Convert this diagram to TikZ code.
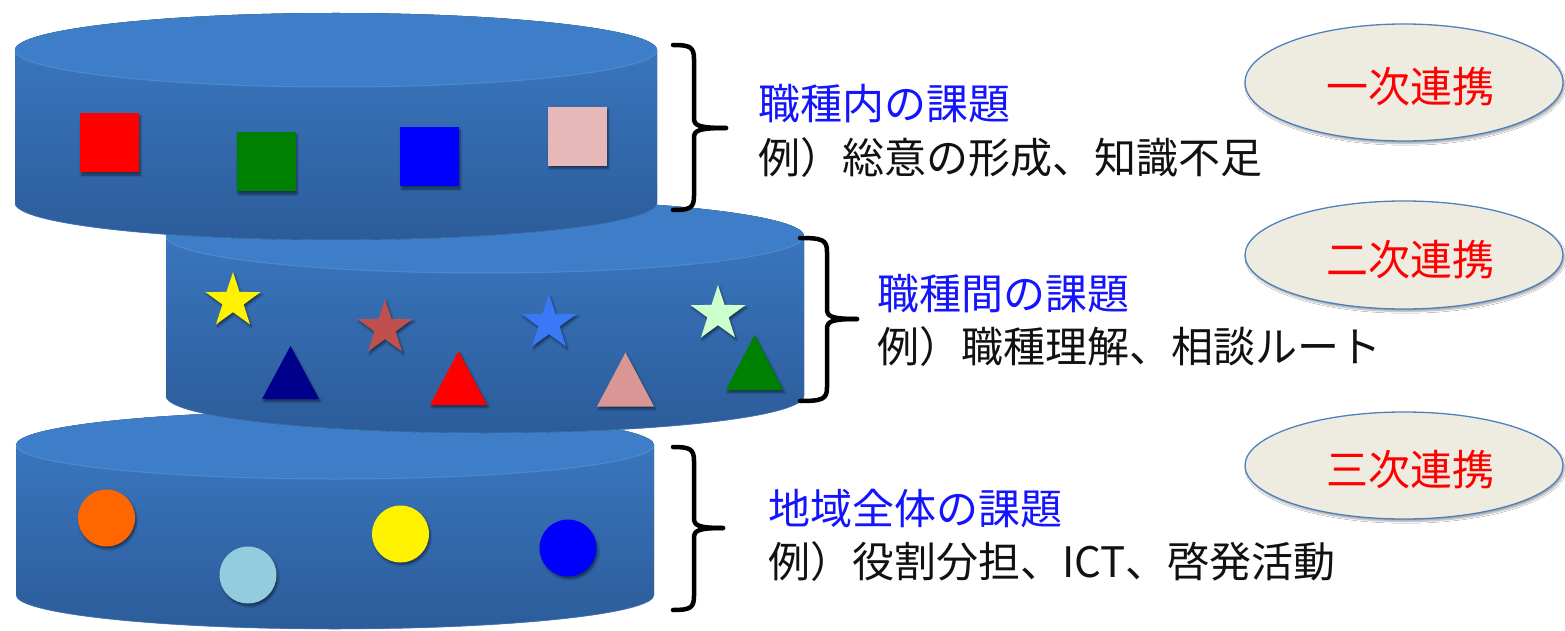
\documentclass[tikz,border=0pt]{standalone}
\usepackage{fontspec}
\newfontfamily\jpfont{Noto Sans CJK JP}
\usetikzlibrary{shapes.geometric,shadows.blur}
\definecolor{cyltop}{RGB}{62,125,200}
\definecolor{cylsideA}{RGB}{60,122,196}
\definecolor{cylsideB}{RGB}{44,92,154}
\definecolor{cylrim}{RGB}{88,146,214}
\definecolor{ovalfill}{RGB}{238,236,225}
\definecolor{ovalline}{RGB}{79,129,189}
\definecolor{sqpink}{RGB}{230,185,184}
\definecolor{sqgreen}{RGB}{0,128,0}
\definecolor{starbrown}{RGB}{192,80,77}
\definecolor{starblue}{RGB}{58,120,245}
\definecolor{starlg}{RGB}{204,255,204}
\definecolor{trinavy}{RGB}{0,0,140}
\definecolor{tripink}{RGB}{217,150,148}
\definecolor{circorange}{RGB}{255,102,0}
\definecolor{circlb}{RGB}{147,205,221}
\definecolor{txtblue}{RGB}{20,20,255}
\definecolor{txtblack}{RGB}{17,17,17}
\newcommand\mycylinder[5]{% cx, rx, ytop, ybottom, ry
  \fill[top color=cylsideA,bottom color=cylsideB]
    (#1-#2,#3) -- (#1-#2,#4)
    arc[start angle=180,end angle=0,x radius=#2,y radius=#5]
    -- (#1+#2,#3)
    arc[start angle=0,end angle=-180,x radius=#2,y radius=#5] -- cycle;
  \draw[cylrim,line width=0.8pt,opacity=0.5] (#1-#2,#4)
    arc[start angle=180,end angle=0,x radius=#2,y radius=#5];
  \fill[cyltop] (#1,#3) ellipse[x radius=#2,y radius=#5];
  \draw[cylrim,line width=1pt,opacity=0.7] (#1-#2,#3)
    arc[start angle=180,end angle=0,x radius=#2,y radius=#5];
}
\newcommand\mybrace[6]{% hookx, x, ytop, ymid, ybot, tipx
  \draw[bracestyle] (#1,#3) .. controls (#2-4,#3) and (#2,#3+2) .. (#2,#3+14)
    -- (#2,#4-10) .. controls (#2,#4-3) and (#2+3,#4) .. (#6,#4);
  \draw[bracestyle] (#6,#4) .. controls (#2+3,#4) and (#2,#4+3) .. (#2,#4+10)
    -- (#2,#5-14) .. controls (#2,#5-2) and (#2-4,#5) .. (#1,#5);
}
\begin{document}
\begin{tikzpicture}[x=1pt,y=-1pt,
  bracestyle/.style={line width=4.5pt,black,line cap=round,line join=round},
  shp/.style={blur shadow={shadow xshift=1.5pt,shadow yshift=-2.5pt,shadow blur steps=5,shadow opacity=45}},
  sq/.style={shp,draw=none,inner sep=0pt,minimum size=59pt},
  starnode/.style={shp,star,star points=5,star point ratio=2.6,draw=none,inner sep=0pt,minimum size=58pt},
  dot/.style={shp,circle,draw=none,inner sep=0pt,minimum size=57pt},
  oval/.style={ellipse,draw=ovalline,line width=1.3pt,fill=ovalfill,inner sep=0pt,
    blur shadow={shadow xshift=1.5pt,shadow yshift=-2.5pt,shadow blur steps=5,shadow opacity=35}},
  ovaltxt/.style={inner sep=0pt,text=red,font=\jpfont\fontsize{42}{50}\selectfont},
  head/.style={anchor=base west,inner sep=0pt,text=txtblue,font=\jpfont\fontsize{42}{50}\selectfont},
  body/.style={anchor=base west,inner sep=0pt,text=txtblack,font=\jpfont\fontsize{42}{50}\selectfont}]
\useasboundingbox[fill=white] (0,0) rectangle (1565,631);

% cylinders (bottom first)
\mycylinder{335}{319}{445}{595}{34}
\mycylinder{485}{319}{236}{396}{37}
\mycylinder{336}{321}{50}{203}{37}

% top layer: squares
\node[sq,fill=red]     (q1) at (109.5,143) {};
\node[sq,fill=sqgreen] (q2) at (266,162) {};
\node[sq,fill=blue]    (q3) at (429.5,157) {};
\node[sq,fill=sqpink]  (q4) at (577.5,136.5) {};

% middle layer: stars and triangles
\node[starnode,fill=yellow]    (s1) at (233,301) {};
\node[starnode,fill=starbrown] (s2) at (385,328) {};
\node[starnode,fill=starblue]  (s3) at (549,323) {};
\node[starnode,fill=starlg]    (s4) at (718,314) {};
\fill[shp,trinavy] (262,399) -- (319,399) -- (290.5,346) -- cycle;
\fill[shp,red]     (430,405) -- (487,405) -- (458.5,351) -- cycle;
\fill[shp,tripink] (597,406.5) -- (654,406.5) -- (625.5,352.5) -- cycle;
\fill[shp,sqgreen] (726,390) -- (783,390) -- (754.5,335) -- cycle;

% bottom layer: circles
\node[dot,fill=circorange] (c1) at (106.5,518) {};
\node[dot,fill=circlb]     (c2) at (248,575) {};
\node[dot,fill=yellow]     (c3) at (400.5,534) {};
\node[dot,fill=blue]       (c4) at (568,548) {};

% braces
\mybrace{673}{694}{45}{128}{210}{726}
\mybrace{800}{827}{238}{319}{401}{857}
\mybrace{673}{694}{447}{528}{610}{723}

% texts
\node[head] (h1) at (758,120) {職種内の課題};
\node[body] (b1) at (758,174) {例）総意の形成、知識不足};
\node[head] (h2) at (877,309) {職種間の課題};
\node[body] (b2) at (877,362) {例）職種理解、相談ルート};
\node[head] (h3) at (768,524) {地域全体の課題};
\node[body] (b3) at (768,577) {例）役割分担、ICT、啓発活動};

% ovals
\node[oval,minimum width=318pt,minimum height=117pt] (e1) at (1404,82.5) {};
\node[ovaltxt] (l1) at (1410,87) {一次連携};
\node[oval,minimum width=318pt,minimum height=108pt] (e2) at (1404,255) {};
\node[ovaltxt] (l2) at (1410,260) {二次連携};
\node[oval,minimum width=318pt,minimum height=107pt] (e3) at (1404,465.5) {};
\node[ovaltxt] (l3) at (1410,470) {三次連携};
\end{tikzpicture}
\end{document}
